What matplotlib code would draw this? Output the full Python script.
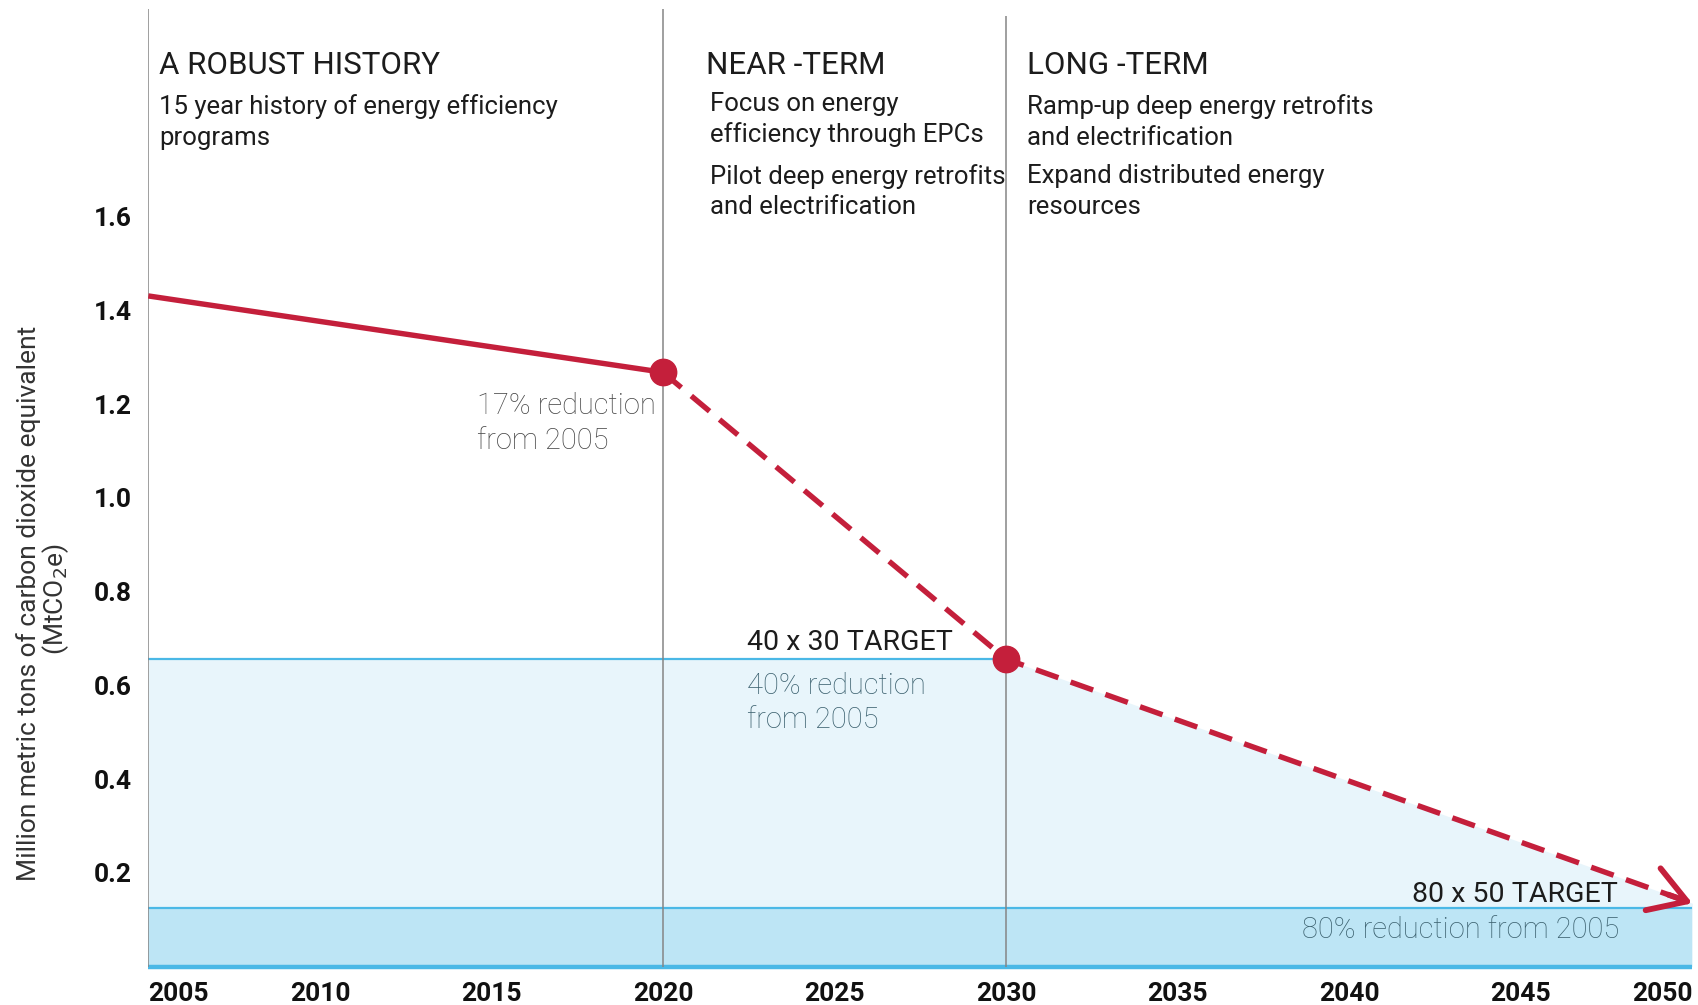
import matplotlib.pyplot as plt
import numpy as np

# ---- data ----
years = [2005, 2020, 2030, 2050]
emissions = [1.431, 1.268, 0.656, 0.135]
target_2030 = 0.656
target_2050 = 0.125
x_ticks = [2005, 2010, 2015, 2020, 2025, 2030, 2035, 2040, 2045, 2050]
y_ticks = [0.2, 0.4, 0.6, 0.8, 1.0, 1.2, 1.4, 1.6]
phase_years = [2005, 2020, 2030]

phase_titles = ['A ROBUST HISTORY', 'NEAR -TERM', 'LONG -TERM']
phase_lines = [
    ['15 year history of energy efficiency', 'programs'],
    ['Focus on energy', 'efficiency through EPCs', 'Pilot deep energy retrofits', 'and electrification'],
    ['Ramp-up deep energy retrofits', 'and electrification', 'Expand distributed energy', 'resources'],
]

# ---- style ----
plt.rcParams['font.family'] = ['Roboto', 'DejaVu Sans']
red = '#c41f3b'
blue_line = '#4ab8e6'
light_fill = '#e8f5fb'
dark_fill = '#bde5f5'
grey = '#858585'
dark_txt = '#1c1c1c'
note_grey = '#474747'
note_blue = '#3d6270'

fig = plt.figure(figsize=(16.99, 10.05), dpi=100)
ax = fig.add_axes([0.0873, 0.0383, 0.9088, 0.9617])
ax.set_xlim(2005, 2050)
ax.set_ylim(0, 2.0625)

# 填充区域
ax.fill_between([years[0], years[2], years[3]], [target_2030, target_2030, emissions[3]], 0,
                color=light_fill, lw=0, zorder=1)
ax.fill_between([years[0], years[3]], target_2050, 0, color=dark_fill, lw=0, zorder=1)

# 目标线
ax.hlines(target_2030, years[0], years[2], color=blue_line, lw=1.6, zorder=2)
ax.hlines(target_2050, years[0], years[3], color=blue_line, lw=1.6, zorder=2)
ax.hlines(0, years[0], years[3], color=blue_line, lw=3.2, zorder=2, clip_on=False)

# 阶段分隔线
ax.vlines(phase_years, 0, [2.044, 2.044, 2.028], color=grey, lw=1.1, zorder=3)

# 排放曲线
ax.plot(years[:2], emissions[:2], color=red, lw=3.9, solid_capstyle='butt', zorder=4)
ax.plot(years[1:], emissions[1:], color=red, lw=3.9, dashes=(4.4, 2.4), zorder=4)
ax.plot(years[1:3], emissions[1:3], 'o', color=red, ms=19, zorder=5)
x0 = years[3] - 0.7
ax.annotate('', xy=(years[3], emissions[3]), xytext=(x0, np.interp(x0, years, emissions)),
            arrowprops=dict(arrowstyle='->,head_length=1.3,head_width=0.8', color=red, lw=4.2,
                            mutation_scale=20, shrinkA=0, shrinkB=0),
            annotation_clip=False, zorder=5)

# 阶段标题和说明
title_x = [2005.32, 2021.26, 2030.61]
body_x = [2005.32, 2021.36, 2030.61]
body_y = [[1.836, 1.769], [1.840, 1.776, 1.686, 1.621], [1.836, 1.769, 1.686, 1.621]]
for i in range(3):
    ax.text(title_x[i], 1.922, phase_titles[i], fontsize=22.5, fontweight='normal',
            color=dark_txt, va='center', ha='left', zorder=6)
    for line, yy in zip(phase_lines[i], body_y[i]):
        ax.text(body_x[i], yy, line, fontsize=18.5, color=dark_txt, va='center', ha='left', zorder=6)

# 注释
ax.text(2014.57, 1.196, '17% reduction', fontsize=21, fontweight='light', color=note_grey, va='center')
ax.text(2014.57, 1.122, 'from 2005', fontsize=21, fontweight='light', color=note_grey, va='center')
ax.text(2022.46, 0.692, '40 x 30 TARGET', fontsize=20.5, color=dark_txt, va='center')
ax.text(2022.46, 0.599, '40% reduction', fontsize=21, fontweight='light', color=note_blue, va='center')
ax.text(2022.46, 0.525, 'from 2005', fontsize=21, fontweight='light', color=note_blue, va='center')
ax.text(2047.82, 0.153, '80 x 50 TARGET', fontsize=20.5, color=dark_txt, va='center', ha='right')
ax.text(2047.88, 0.077, '80% reduction from 2005', fontsize=21, fontweight='light',
        color=note_blue, va='center', ha='right')

# 坐标轴
for s in ax.spines.values():
    s.set_visible(False)
ax.set_xticks(x_ticks)
ax.set_xticklabels([str(v) for v in x_ticks], fontsize=19, fontweight='bold', color='#111111')
ax.set_yticks(y_ticks)
ax.set_yticklabels([f'{v:.1f}' for v in y_ticks], fontsize=19, fontweight='bold', color='#111111')
ax.tick_params(axis='x', length=0, pad=11)
ax.tick_params(axis='y', length=0, pad=12)
xl = ax.get_xticklabels()
xl[0].set_ha('left')
xl[-1].set_ha('right')

fig.text(0.0165, 0.400, 'Million metric tons of carbon dioxide equivalent', rotation=90,
         fontsize=19, color='#333333', ha='center', va='center')
fig.text(0.0325, 0.404, '(MtCO$_2$e)', rotation=90, fontsize=19, color='#333333',
         ha='center', va='center')

plt.savefig('out.png', dpi=100)
plt.close()
